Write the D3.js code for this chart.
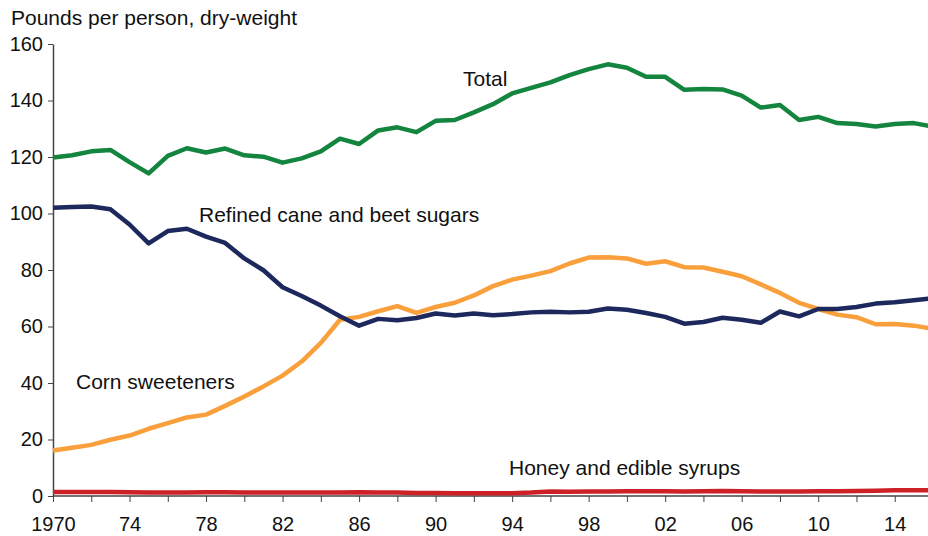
<!DOCTYPE html>
<html>
<head>
<meta charset="utf-8">
<script src="https://cdn.jsdelivr.net/npm/d3@7"></script>
<style>
  body { margin: 0; background: #fff; }
  svg { display: block; font-family: "Liberation Sans", Arial, sans-serif; }
  .axis path, .axis line { stroke: #444; }
  .axis text { font-size: 20px; fill: #111; }
  .label { font-size: 21px; fill: #111; }
</style>
</head>
<body>
<svg id="chart" width="928" height="536"></svg>
<script>
// years 1970-2016, pounds per person, dry-weight
const years = d3.range(1970, 2017);
const total = [119.8, 120.6, 122.0, 122.5, 118.2, 114.2, 120.4, 123.1, 121.6, 123.0,
  120.6, 120.1, 118.0, 119.5, 122.0, 126.5, 124.6, 129.4, 130.5, 128.8,
  132.8, 133.1, 135.8, 138.7, 142.5, 144.5, 146.4, 149.0, 151.1, 152.8,
  151.6, 148.4, 148.4, 143.8, 144.1, 143.9, 141.7, 137.5, 138.4, 133.1,
  134.2, 132.0, 131.7, 130.8, 131.7, 132.0, 130.7];
const refined = [102.0, 102.3, 102.5, 101.5, 96.1, 89.4, 93.8, 94.6, 91.8, 89.6,
  84.1, 79.9, 73.9, 70.8, 67.4, 63.6, 60.3, 62.7, 62.2, 63.0,
  64.6, 63.9, 64.6, 64.0, 64.4, 65.0, 65.2, 65.0, 65.2, 66.4,
  65.9, 64.8, 63.4, 61.0, 61.6, 63.1, 62.4, 61.3, 65.3, 63.6,
  66.2, 66.2, 66.9, 68.1, 68.6, 69.3, 70.0];
const corn = [16.1, 17.1, 18.1, 19.9, 21.4, 23.8, 25.8, 27.8, 28.8, 31.9,
  35.2, 38.8, 42.6, 47.6, 54.2, 62.4, 63.4, 65.4, 67.2, 64.8,
  66.9, 68.4, 71.0, 74.3, 76.6, 78.0, 79.6, 82.3, 84.4, 84.5,
  84.1, 82.2, 83.1, 81.0, 80.9, 79.4, 77.8, 74.9, 71.9, 68.4,
  66.2, 64.2, 63.3, 60.8, 60.9, 60.3, 59.2];
const honey = [1.4, 1.4, 1.4, 1.4, 1.3, 1.2, 1.2, 1.2, 1.3, 1.3,
  1.2, 1.2, 1.2, 1.2, 1.2, 1.2, 1.3, 1.2, 1.2, 1.1,
  1.1, 1.0, 1.0, 1.0, 1.0, 1.2, 1.6, 1.5, 1.6, 1.6,
  1.7, 1.7, 1.7, 1.6, 1.7, 1.8, 1.7, 1.6, 1.6, 1.6,
  1.7, 1.7, 1.8, 1.9, 2.0, 2.0, 2.0];
const yTicks = [0, 20, 40, 60, 80, 100, 120, 140, 160];

const svg = d3.select("#chart");
const x = d3.scaleLinear().domain([1970, 2016]).range([53, 933]);
const y = d3.scaleLinear().domain([0, 160]).range([496, 44]);

// y title
svg.append("text").attr("class", "label")
  .attr("x", 11).attr("y", 25)
  .text("Pounds per person, dry-weight");

// y axis
svg.append("g")
  .attr("class", "axis")
  .attr("transform", "translate(53,0)")
  .call(d3.axisLeft(y).tickValues(yTicks).tickSize(5).tickSizeOuter(0).tickPadding(5))
  .call(g => g.select(".domain").attr("stroke-width", 1.5));

// x axis, ticks every 2 years, labels every 4
svg.append("g")
  .attr("class", "axis")
  .attr("transform", "translate(0,496)")
  .call(d3.axisBottom(x).tickValues(d3.range(1970, 2017, 2)).tickSize(6).tickSizeOuter(0).tickPadding(15)
    .tickFormat(d => (d - 1970) % 4 ? "" : (d == 1970 ? "1970" : String(d % 100).padStart(2, "0"))))
  .call(g => g.select(".domain").attr("d", "M53,0H928").attr("stroke-width", 1.5));

const line = vals => d3.line().x((d, i) => x(years[i])).y(d => y(d))(vals);

const series = [
  { vals: honey, color: "#cd2027" },
  { vals: corn, color: "#f99f3b" },
  { vals: refined, color: "#1d285c" },
  { vals: total, color: "#13853f" }
];
svg.append("g").selectAll("path")
  .data(series)
  .join("path")
  .attr("d", d => line(d.vals))
  .attr("fill", "none")
  .attr("stroke", d => d.color)
  .attr("stroke-width", 4.5)
  .attr("stroke-linejoin", "round");

// series labels
const labels = [
  { text: "Total", x: 463, y: 86 },
  { text: "Refined cane and beet sugars", x: 199, y: 222 },
  { text: "Corn sweeteners", x: 76, y: 389 },
  { text: "Honey and edible syrups", x: 509, y: 475 }
];
svg.append("g").selectAll("text")
  .data(labels)
  .join("text")
  .attr("class", "label")
  .attr("x", d => d.x).attr("y", d => d.y)
  .text(d => d.text);
</script>
</body>
</html>
